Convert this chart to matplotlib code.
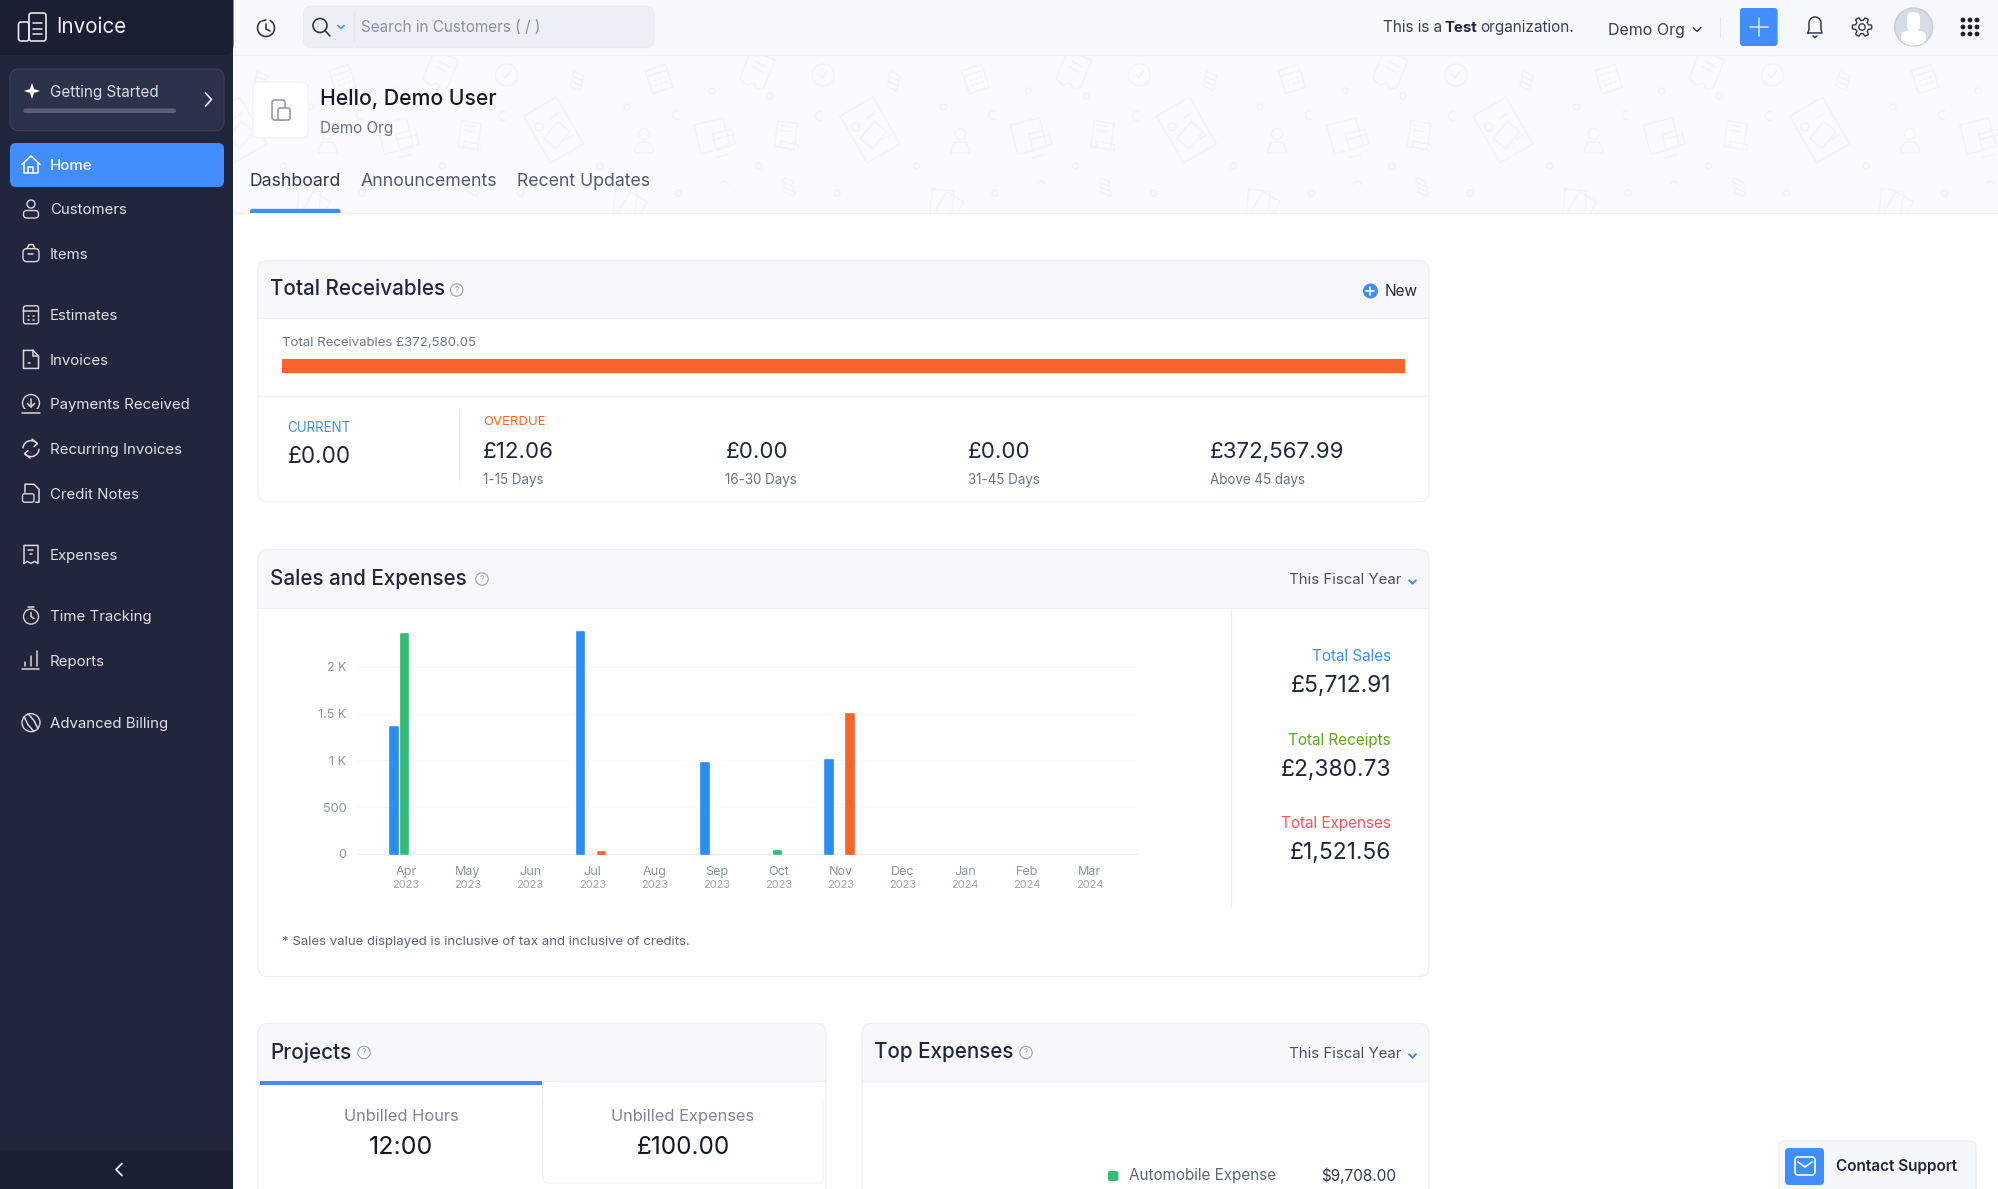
import numpy as np
import matplotlib
matplotlib.use("Agg")
import matplotlib.pyplot as plt
from matplotlib.patches import FancyBboxPatch, Rectangle, Circle, Polygon

W, H = 1999, 1189
FONT = ["Inter", "DejaVu Sans"]
plt.rcParams["font.family"] = FONT

# ---- chart data ----
months = ["Apr", "May", "Jun", "Jul", "Aug", "Sep", "Oct", "Nov", "Dec", "Jan", "Feb", "Mar"]
years = ["2023"] * 9 + ["2024"] * 3
sales = [1355, 0, 0, 2375, 0, 975, 0, 1008, 0, 0, 0, 0]
receipts = [2350, 0, 0, 0, 0, 0, 30, 0, 0, 0, 0, 0]
expenses = [0, 0, 0, 20, 0, 0, 0, 1501, 0, 0, 0, 0]
y_ticks = [0, 500, 1000, 1500, 2000]
y_labels = ["0", "500", "1 K", "1.5 K", "2 K"]
receivable_parts = [0.0, 372580.05]

sidebar_items = [("Home", 129), ("Customers", 164), ("Items", 199), ("Estimates", 247),
                 ("Invoices", 282), ("Payments Received", 317), ("Recurring Invoices", 352),
                 ("Credit Notes", 387), ("Expenses", 435), ("Time Tracking", 483),
                 ("Reports", 518), ("Advanced Billing", 567)]
aging_values = ["£12.06", "£0.00", "£0.00", "£372,567.99"]
aging_labels = ["1-15 Days", "16-30 Days", "31-45 Days", "Above 45 days"]

BLUE = "#2b8cf2"
GREEN = "#35bb78"
ORANGE = "#fb632d"
UIBLUE = "#408dfb"
NAVY = "#21263c"
DARK = "#1b1f33"
INK = "#21263c"
GREY = "#6c718a"
SIDE_TXT = "#dfe1ea"
LINE = "#eeeef5"

fig = plt.figure(figsize=(W / 100, H / 100), dpi=100, facecolor="white")
bg = fig.add_axes([0, 0, 1, 1])
bg.set_xlim(0, W)
bg.set_ylim(H, 0)
bg.axis("off")


def T(x, y, s, px=14, c=INK, w="normal", ha="left", va="center", z=6):
    return bg.text(x, y + 1.4, s, fontsize=px * 0.72, color=c, fontweight=w, ha=ha, va=va,
                   zorder=z, family=FONT)


def RR(x0, y0, x1, y1, r=4, fc="none", ec="none", lw=0, z=2):
    p = FancyBboxPatch((x0, y0), x1 - x0, y1 - y0, boxstyle=f"round,pad=0,rounding_size={r}",
                       fc=fc, ec=ec, lw=lw, zorder=z)
    bg.add_patch(p)
    return p


def R(x0, y0, x1, y1, fc, z=2):
    bg.add_patch(Rectangle((x0, y0), x1 - x0, y1 - y0, fc=fc, ec="none", zorder=z))


def L(xs, ys, c=SIDE_TXT, lw=1.1, z=5):
    return bg.plot(xs, ys, color=c, lw=lw, solid_capstyle="round", solid_joinstyle="round", zorder=z)[0]


def C(x, y, r, fc="none", ec="none", lw=0, z=5):
    p = Circle((x, y), r, fc=fc, ec=ec, lw=lw, zorder=z)
    bg.add_patch(p)
    return p


def help_icon(x, y):
    C(x, y, 6.2, ec="#9a9eb0", lw=0.8)
    T(x, y - 1.2, "?", 8, "#9a9eb0", ha="center")


def chevron(x, y, s=3.5, c="#5a5f75", lw=1.0):
    L([x - s, x, x + s], [y - s / 2, y + s / 2, y - s / 2], c=c, lw=lw)


# ---- page areas ----
R(233.5, 0, W, 55, "#f7f8fd", z=1)
R(233.5, 55, W, 213, "#fbfbfe", z=1)
L([233.5, W], [55, 55], c="#f1f1f7", lw=0.8, z=2)
L([233.5, W], [213, 213], c=LINE, lw=1.0, z=2)

# ---- background doodles ----
banner = Rectangle((233.5, 55), W - 233.5, 158, transform=bg.transData, fc="none", ec="none")
bg.add_patch(banner)
DOOD = "#f3f3fb"


def rot(pts, cx, cy, a):
    t = np.deg2rad(a)
    pts = np.asarray(pts, float)
    return (cx + pts[:, 0] * np.cos(t) - pts[:, 1] * np.sin(t),
            cy + pts[:, 0] * np.sin(t) + pts[:, 1] * np.cos(t))


def dl(pts, cx, cy, a=0, close=False):
    pts = list(pts)
    if close:
        pts = pts + [pts[0]]
    xs, ys = rot(pts, cx, cy, a)
    ln = bg.plot(xs, ys, color=DOOD, lw=1.0, zorder=1.5, solid_joinstyle="round")[0]
    ln.set_clip_path(banner)


def dc(cx, cy, r):
    p = Circle((cx, cy), r, fc="none", ec=DOOD, lw=1.0, zorder=1.5)
    bg.add_patch(p)
    p.set_clip_path(banner)


def box(w, h):
    return [(-w / 2, -h / 2), (w / 2, -h / 2), (w / 2, h / 2), (-w / 2, h / 2)]


def pattern(dx):
    # coins
    for k in range(3):
        dl(box(11, 5), 578 + dx - k, 76 + 5 * k, 25, True)
    # calendar
    dl(box(21, 24), 659 + dx, 79, -18, True)
    dl([(-10, -6), (10, -6)], 659 + dx, 79, -18)
    for i in (-5, 0, 5):
        for j in (0, 5):
            dl([(i, j), (i + 1, j)], 659 + dx, 79, -18)
    # receipt
    dl([(-13, -16), (13, -16), (13, 14), (7, 18), (2, 13), (-4, 18), (-13, 14)], 757 + dx, 70, 22, True)
    dl([(-5, -7), (6, -7)], 757 + dx, 70, 30)
    dl([(-5, -1), (6, -1)], 757 + dx, 70, 30)
    # check circle
    dc(823 + dx, 75, 11)
    dl([(-4, 0), (-1, 3), (4, -4)], 823 + dx, 75)
    # large document
    dl(box(38, 54), 553.5 + dx, 130, -30, True)
    dl(box(16, 22), 557 + dx, 135, 40, True)
    dc(539 + dx, 127, 4)
    dl([(-4, 0), (4, 0)], 554 + dx, 116, -35)
    dl([(-4, 0), (4, 0)], 570 + dx, 137, -35)
    # person
    dc(644 + dx, 134, 5.5)
    dl([(-9, 11), (-9, 6), (-5, 0), (5, 0), (9, 6), (9, 11)], 644 + dx, 142, 0, True)
    # monitor + card
    dl(box(30, 30), 712 + dx, 136, -14, True)
    dl(box(20, 15), 724 + dx, 139, -14, True)
    dl([(-10, -2), (10, -2)], 724 + dx, 139, -14)
    dl([(-6, 0), (6, 0)], 722 + dx, 156, -14)
    # small doc
    dl(box(20, 26), 786 + dx, 135, 8, True)
    dl(box(18, 6), 789 + dx, 146, 12, True)
    dl([(-5, 0), (5, 0)], 786 + dx, 131, 8)
    dl([(-5, 0), (5, 0)], 786 + dx, 126, 8)
    # dots
    for (a, b) in [(627, 107), (712, 91), (770, 96), (600, 166), (759, 166), (678.5, 193), (837, 193)]:
        dc(a + dx, b, 3)
    # moons
    for (a, b) in [(677, 115), (820, 116)]:
        t = np.deg2rad(np.linspace(70, 290, 14))
        dl(np.c_[4.5 * np.cos(t), 4.5 * np.sin(t)], a + dx, b)
    # lower bits
    t = np.deg2rad(np.linspace(200, 340, 14))
    dl(np.c_[4.5 * np.cos(t), 4.5 * np.sin(t)], 724.5 + dx, 186)
    for k in range(3):
        dl(box(10, 4.5), 788 + dx + k, 182 + 5 * k, 25, True)
    dl(box(22, 30), 625 + dx, 205, 6, True)
    dl(box(20, 26), 632 + dx, 208, 30, True)


for n in range(-1, 5):
    pattern(n * 316.5)

# ---- sidebar ----
R(0, 0, 233.5, H, NAVY, z=1)
RR(-12, -12, 233.5, 55, r=10, fc=DARK, z=1.2)
R(0, 1150, 233.5, H, DARK, z=1.2)
chevron_x, chevron_y = 119, 1169.5
L([chevron_x + 3, chevron_x - 3, chevron_x + 3], [chevron_y - 6, chevron_y, chevron_y + 6], c="#e6e8ef", lw=1.3)

# brand icon
RR(29, 13, 46, 41, r=2.5, ec="#e6e8ef", lw=1.2, fc="none", z=5)
RR(18.5, 22, 29, 41, r=2.5, ec="#e6e8ef", lw=1.2, fc="none", z=5)
for yy in (23, 29, 34):
    L([33, 42], [yy, yy], c="#e6e8ef", lw=1.1)
T(56, 26, "Invoice", 20.6, "#eef0f6")

# getting started
RR(10, 69, 224, 130.7, r=9, fc="#2c3249", ec="#3b4158", lw=0.8, z=2)
T(50, 91, "Getting Started", 15.3, "#d9dbe5")
xs = 32
bg.add_patch(Polygon([(xs - 8, 91), (xs - 2, 89), (xs, 83), (xs + 2, 89), (xs + 8, 91), (xs + 2, 93), (xs, 99), (xs - 2, 93)],
                     fc="white", ec="none", zorder=5))
RR(23.5, 108.5, 176, 113, r=2, fc="#5a5f75", z=3)
L([205.5, 211.5, 205.5], [93, 99.5, 106], c="#e6e8ef", lw=1.2)

# home highlight
RR(10, 143, 224, 187, r=6, fc=UIBLUE, z=2)

for name, oy in sidebar_items:
    y = oy * 1.2745
    T(50, y, name, 15.0, "white" if name == "Home" else SIDE_TXT, w="medium" if name == "Home" else "normal")

# sidebar icons
IC = "#d5d7e1"


def ibox(x0, y0, x1, y1, c=IC, r=2.2):
    RR(x0, y0, x1, y1, r=r, ec=c, lw=1.0, z=5)


def icons():
    cx = 31
    # Home
    y = 129 * 1.2745
    L([cx - 9, cx, cx + 9], [y + 0, y - 8.5, y + 0], c="white")
    L([cx - 7, cx - 7, cx + 7, cx + 7], [y - 1, y + 8.5, y + 8.5, y - 1], c="white")
    L([cx - 2.5, cx - 2.5, cx + 2.5, cx + 2.5], [y + 8.5, y + 3, y + 3, y + 8.5], c="white")
    # Customers
    y = 164 * 1.2745
    C(cx, y - 5, 4, ec=IC, lw=1.0)
    ibox(cx - 7.5, y + 1.5, cx + 7.5, y + 9, r=3.5)
    # Items
    y = 199 * 1.2745
    ibox(cx - 8, y - 5, cx + 8, y + 8, r=4)
    L([cx - 4, cx - 2, cx + 2, cx + 4], [y - 5, y - 9, y - 9, y - 5], c=IC)
    L([cx - 2.5, cx + 2.5], [y + 0.5, y + 0.5], c=IC)
    # Estimates
    y = 247 * 1.2745
    ibox(cx - 7.5, y - 9, cx + 7.5, y + 9)
    L([cx - 7.5, cx + 7.5], [y - 3.5, y - 3.5], c=IC)
    for a in (-2.5, 2.5):
        for b in (1, 5):
            L([cx + a, cx + a + 0.4], [y + b, y + b], c=IC)
    # Invoices
    y = 282 * 1.2745
    L([cx - 7.5, cx + 2, cx + 7.5, cx + 7.5, cx - 7.5, cx - 7.5],
      [y - 9, y - 9, y - 3.5, y + 9, y + 9, y - 9], c=IC)
    L([cx + 2, cx + 2, cx + 7.5], [y - 9, y - 3.5, y - 3.5], c=IC)
    L([cx - 3, cx - 1], [y + 3.5, y + 3.5], c=IC)
    # Payments received
    y = 317 * 1.2745
    C(cx, y - 1, 8.5, ec=IC, lw=1.0)
    L([cx, cx], [y - 5, y + 3], c=IC)
    L([cx - 3.5, cx, cx + 3.5], [y - 0.5, y + 3, y - 0.5], c=IC)
    R(cx - 10, y + 4.5, cx + 10, y + 7.5, NAVY, z=5.5)
    L([cx - 9, cx + 9], [y + 9, y + 9], c=IC, z=6)
    # Recurring
    y = 352 * 1.2745
    t = np.deg2rad(np.linspace(185, 320, 20))
    L(cx + 8 * np.cos(t), y + 8 * np.sin(t), c=IC)
    t = np.deg2rad(np.linspace(5, 140, 20))
    L(cx + 8 * np.cos(t), y + 8 * np.sin(t), c=IC)
    L([cx + 1, cx + 6.5, cx + 3], [y - 9.5, y - 5, y - 2], c=IC)
    L([cx - 1, cx - 6.5, cx - 3], [y + 9.5, y + 5, y + 2], c=IC)
    # Credit notes
    y = 387 * 1.2745
    L([cx - 6, cx - 6, cx + 3, cx + 8, cx + 8, cx + 5],
      [y - 1, y - 9, y - 9, y - 4, y + 9, y + 9], c=IC)
    ibox(cx - 8.5, y + 0.5, cx + 3, y + 9)
    # Expenses
    y = 435 * 1.2745
    L([cx - 7, cx - 7, cx + 7, cx + 7, cx + 3.5, cx, cx - 3.5, cx - 7],
      [y + 9, y - 9, y - 9, y + 9, y + 7, y + 9, y + 7, y + 9], c=IC)
    L([cx - 2.5, cx + 2.5], [y - 4, y - 4], c=IC)
    L([cx - 1, cx + 1], [y + 0, y + 0], c=IC)
    # Time tracking
    y = 483 * 1.2745
    C(cx, y + 1, 7.5, ec=IC, lw=1.0)
    L([cx - 3, cx + 3], [y - 9, y - 9], c=IC)
    L([cx, cx, cx + 3], [y - 3, y + 1, y + 3], c=IC)
    # Reports
    y = 518 * 1.2745
    L([cx - 8.5, cx + 8.5], [y + 9, y + 9], c=IC)
    L([cx - 6, cx - 6], [y + 2, y + 6], c=IC)
    L([cx, cx], [y - 4, y + 6], c=IC)
    L([cx + 6, cx + 6], [y - 9, y + 6], c=IC)
    # Advanced billing
    y = 567 * 1.2745
    C(cx, y, 9, ec=IC, lw=1.0)
    L([cx - 3, cx + 3, cx + 7], [y - 9, y - 2, y + 6], c=IC)
    L([cx + 3, cx - 3, cx - 7], [y + 9, y + 2, y - 6], c=IC)


icons()

# ---- top bar ----
t = np.deg2rad(np.linspace(-60, 230, 40))
L(266 + 8.5 * np.cos(t), 28 + 8.5 * np.sin(t), c="#33384e", lw=1.2)
L([262, 266], [21, 20], c="#33384e", lw=1.2)
L([266, 266, 270], [24, 29, 31], c="#33384e", lw=1.2)
RR(303.5, 6, 654, 47.7, r=8, fc="#eeeff6", ec="#e8e9f2", lw=0.6, z=2)
C(320, 25.5, 7, ec="#33384e", lw=1.2)
L([325, 330], [30.5, 36], c="#33384e", lw=1.2)
chevron(341, 27, 3.2, c=UIBLUE, lw=1.1)
L([353.6, 353.6], [13, 41], c="#e4e5ef", lw=0.8)
T(360.7, 26, "Search in Customers ( / )", 15.3, "#8b90a5")

x0 = 1382.6
t1 = T(x0, 26.5, "This is a ", 15.3, "#3a3f55")
fig.canvas.draw()
r = fig.canvas.get_renderer()
x1 = t1.get_window_extent(r).x1 - 1.5
t2 = T(x1, 26.5, "Test", 15.0, "#21263c", w="bold")
x2 = t2.get_window_extent(r).x1 + 3.5
T(x2, 26.5, "organization.", 15.3, "#3a3f55")
T(1608, 29, "Demo Org", 16, "#3a3f55")
chevron(1697, 29.5, 3.8, c="#3a3f55", lw=1.0)
L([1720, 1720], [17, 37], c="#e5e6ef", lw=0.8)
RR(1740, 8, 1777.6, 46, r=3, fc=UIBLUE, z=3)
L([1750, 1768], [27, 27], c="#dce9ff", lw=1.1)
L([1759, 1759], [18, 36], c="#dce9ff", lw=1.1)
# bell
t = np.deg2rad(np.linspace(180, 360, 20))
L(np.r_[1808, 1809, 1809 + 6 * (1 + np.cos(t)), 1821, 1822, 1808],
  np.r_[33, 29, 23 + 6 * np.sin(t), 29, 33, 33], c="#33384e", lw=1.1)
L([1813, 1815, 1817], [36, 37.5, 36], c="#33384e", lw=1.1)
# gear
a = np.deg2rad(np.linspace(0, 360, 241))
rad = 8.2 + 1.5 * np.clip(2.5 * np.cos(6 * a), -1, 1)
L(1862 + rad * np.cos(a), 27 + rad * np.sin(a), c="#33384e", lw=1.0)
C(1862, 27, 3.2, ec="#33384e", lw=1.0)
# avatar
C(1913.6, 27, 19, fc="#d7dbe4", ec="#c8ccd6", lw=1.0, z=3)
bg.add_patch(FancyBboxPatch((1907, 12), 13, 20, boxstyle="round,pad=0,rounding_size=6", fc="white", ec="none", zorder=4))
av = bg.add_patch(FancyBboxPatch((1901, 31), 25, 16, boxstyle="round,pad=0,rounding_size=6", fc="white", ec="none", zorder=4))
av.set_clip_path(Circle((1913.6, 27), 18.5, transform=bg.transData))
for i in (-7, 0, 7):
    for j in (-7, 0, 7):
        C(1970 + i, 27 + j, 2.4, fc="#1c1f2e", z=5)

# ---- greeting ----
RR(252.7, 82, 308, 138, r=6, fc="white", ec="#f1f1f7", lw=0.8, z=3)
RR(272, 100, 285, 120, r=2.5, ec="#8d92a5", lw=1.1, z=4)
RR(278, 108, 290, 120, r=2, fc="white", ec="#8d92a5", lw=1.1, z=4.5)
T(320.5, 97.5, "Hello, Demo User", 21.2, "#14172a", w="medium")
T(320.5, 127, "Demo Org", 15.3, GREY)
T(250, 180, "Dashboard", 17.7, "#33384e")
T(361, 180, "Announcements", 17.7, "#55596f")
T(517, 180, "Recent Updates", 17.7, "#55596f")
RR(250, 208.8, 340.5, 216, r=2.5, fc=UIBLUE, z=3)
R(245, 213, 345, 218, "white", z=3.2)


# ---- cards ----
def card(x0, y0, x1, y1, hb):
    RR(x0, y0, x1, y1, r=10, fc="white", z=2)
    RR(x0, y0, x1, hb + 14, r=10, fc="#f8f8fb", z=2.1)
    R(x0, y0 + 12, x1, hb, "#f8f8fb", z=2.2)
    R(x0, hb, x1, hb + 15, "white", z=2.2)
    L([x0, x1], [hb, hb], c="#f0f0f6", lw=0.8, z=2.5)
    RR(x0, y0, x1, y1, r=10, ec="#eeeef4", lw=0.9, z=2.6)


card(258, 260.5, 1429, 501.7, 317.7)
T(270.5, 288, "Total Receivables", 20.6, INK, w="medium")
help_icon(456.7, 290)
C(1370.5, 291, 7.5, fc=UIBLUE)
L([1366.5, 1374.5], [291, 291], c="white", lw=1.2, z=6)
L([1370.5, 1370.5], [287, 295], c="white", lw=1.2, z=6)
T(1418, 290, "New", 15.3, INK, ha="right")
T(282, 342, "Total Receivables £372,580.05", 13.2, "#6f7488")
L([258, 1429], [396, 396], c="#f0f0f6", lw=0.8, z=3)
L([459, 459], [409, 480], c="#f0f0f6", lw=0.8, z=3)
T(287.5, 426.5, "CURRENT", 13.4, UIBLUE)
T(288, 456, "£0.00", 22.6, INK)
T(483, 420.5, "OVERDUE", 13.2, ORANGE)
for xx, v, lab in zip([483, 725.4, 967.7, 1210], aging_values, aging_labels):
    T(xx, 450.5, v, 22.3, INK)
    T(xx, 479, lab, 13.4, GREY)

card(258, 549.5, 1429, 976.6, 607.5)
T(270, 577.5, "Sales and Expenses", 20.6, INK, w="medium")
help_icon(482, 579)
T(1401, 579, "This Fiscal Year", 15.0, "#494e63", ha="right")
chevron(1412.5, 582, 3.4, c=UIBLUE, lw=1.4)
L([1230.7, 1230.7], [607.5, 908], c="#eff0f6", lw=0.9, z=3)
for yy, lab, col, val in [(655, "Total Sales", UIBLUE, "£5,712.91"),
                          (739, "Total Receipts", "#5aa80f", "£2,380.73"),
                          (821.7, "Total Expenses", "#f0565a", "£1,521.56")]:
    T(1391, yy, lab, 15.3, col, ha="right")
    T(1391, yy + 30, val, 22.8, INK, ha="right")
T(282, 940.6, "* Sales value displayed is inclusive of tax and inclusive of credits.", 13.2, "#5f6378")

card(258, 1023.3, 826, 1230, 1081)
T(270.5, 1051, "Projects", 20.6, INK, w="medium")
help_icon(364, 1052.5)
R(260, 1081, 542.4, 1084.5, UIBLUE, z=3)
L([542.4, 542.4], [1081, 1176], c="#f0f0f6", lw=0.8, z=3)
RR(543, 1100, 823, 1183, r=5, fc="white", ec="#f2f2f7", lw=0.8, z=2.8)
R(544, 1084, 822.5, 1110, "white", z=2.9)
T(401, 1114.7, "Unbilled Hours", 16.4, "#7d8297", ha="center")
T(401, 1146, "12:00", 25, "#14172a", ha="center")
T(683, 1114.7, "Unbilled Expenses", 16.4, "#7d8297", ha="center")
T(683, 1146, "£100.00", 24.3, "#14172a", ha="center")

card(862, 1023.3, 1429, 1230, 1081)
T(874, 1051, "Top Expenses", 20.6, INK, w="medium")
help_icon(1026, 1052.5)
T(1401, 1053, "This Fiscal Year", 15.0, "#494e63", ha="right")
chevron(1412.5, 1056, 3.4, c=UIBLUE, lw=1.4)
RR(1108, 1171, 1118.5, 1181, r=2, fc=GREEN, z=4)
T(1129, 1174.5, "Automobile Expense", 15.3, "#5f6378")
T(1396, 1174.5, "$9,708.00", 15.3, "#33384e", ha="right")

# ---- contact support ----
RR(1779, 1141, 1976, 1215, r=6, fc="#f6f7fb", ec="#ececf3", lw=0.8, z=7)
RR(1785, 1148, 1824, 1185, r=4, fc=UIBLUE, z=8)
RR(1795, 1157, 1815, 1175, r=3, ec="white", lw=1.2, z=9)
L([1798, 1805, 1812], [1162, 1167, 1162], c="white", lw=1.2, z=9)
T(1836, 1165.5, "Contact Support", 15.3, "#21263c", w="semibold", z=9)

# ---- receivables bar ----
ax_bar = fig.add_axes([282 / W, 1 - 373.3 / H, (1405 - 282) / W, 14.3 / H])
ax_bar.set_xlim(0, sum(receivable_parts))
ax_bar.set_ylim(-0.5, 0.5)
ax_bar.axis("off")
left = 0.0
for part in receivable_parts:
    ax_bar.barh(0, part, left=left, height=1.0, color=ORANGE)
    left += part

# ---- sales and expenses chart ----
ax_left, ax_right, ax_bottom, ax_top = 357.6, 1137.0, 854.0, 629.4
ax = fig.add_axes([ax_left / W, 1 - ax_bottom / H, (ax_right - ax_left) / W, (ax_bottom - ax_top) / H])
ax.patch.set_alpha(0)
ax.set_xlim(-0.775, 11.765)
ax.set_ylim(0, 2400)
x = np.arange(len(months))
off, bw, nudge = 0.168, 0.125, -0.02
style = dict(width=bw, linewidth=1.2, joinstyle="round", zorder=3)
for vals, col, dx in [(sales, BLUE, -off), (receipts, GREEN, 0.0), (expenses, ORANGE, off)]:
    v = np.array(vals, float)
    m = v > 0
    ax.bar(x[m] + dx + nudge, v[m], color=col, edgecolor=col, clip_on=False, **style)
ax.set_yticks(y_ticks)
ax.set_yticklabels(y_labels)
ax.set_xticks(x)
ax.set_xticklabels(months)
ax.tick_params(axis="both", length=0, labelcolor="#8f93a0", labelsize=12.6 * 0.72)
ax.tick_params(axis="y", pad=8.2)
ax.tick_params(axis="x", pad=8.6)
ax.grid(axis="y", color="#f7f7f9", lw=0.8, zorder=0)
for s in ("top", "left", "right"):
    ax.spines[s].set_visible(False)
ax.spines["bottom"].set_color("#eeeef2")
ax.spines["bottom"].set_linewidth(0.8)
for xi, yr in zip(x, years):
    ax.annotate(yr, (xi, 0), xycoords=("data", "axes fraction"), xytext=(0, -31 * 0.72),
                textcoords="offset points", ha="center", va="center",
                fontsize=11 * 0.72, color="#a0a4b0")

fig.savefig("out.png", dpi=100, facecolor="white")
